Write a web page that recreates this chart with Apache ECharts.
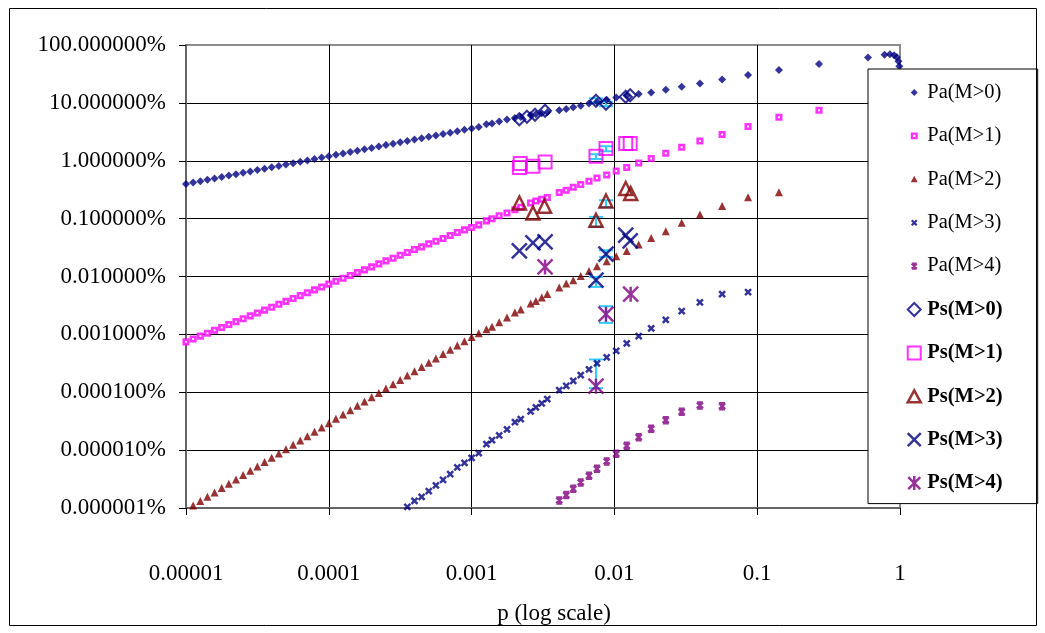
<!DOCTYPE html>
<html>
<head>
<meta charset="utf-8">
<script src="https://cdn.jsdelivr.net/npm/echarts@6/dist/echarts.min.js"></script>
<style>html,body{margin:0;padding:0;background:#fff}#c{width:1045px;height:633px}</style>
</head>
<body>
<div id="c"></div>
<script>
// ---- data ----
const pValues = [
  1.000e-5, 1.122e-5, 1.259e-5, 1.413e-5, 1.585e-5, 1.778e-5, 1.995e-5, 2.239e-5, 2.512e-5, 2.818e-5,
  3.162e-5, 3.548e-5, 3.981e-5, 4.467e-5, 5.012e-5, 5.623e-5, 6.310e-5, 7.079e-5, 7.943e-5, 8.913e-5,
  1.000e-4, 1.122e-4, 1.259e-4, 1.413e-4, 1.585e-4, 1.778e-4, 1.995e-4, 2.239e-4, 2.512e-4, 2.818e-4,
  3.162e-4, 3.548e-4, 3.981e-4, 4.467e-4, 5.012e-4, 5.623e-4, 6.310e-4, 7.079e-4, 7.943e-4, 8.913e-4,
  1.000e-3, 1.122e-3,
  0.00127, 0.00139, 0.00156, 0.00177, 0.00201, 0.00221, 0.00259, 0.00282, 0.00310, 0.00339,
  0.00411, 0.00460, 0.00515, 0.00581, 0.00664, 0.00755, 0.00883, 0.0103, 0.0122, 0.0148,
  0.0181, 0.0229, 0.0296, 0.0397, 0.0568, 0.0863, 0.142, 0.271, 0.597,
  0.78, 0.85, 0.91, 0.95, 0.975, 0.99
];

// Pa series: values aligned with pValues starting at the given index
const paM0Start = 0;
const paM0 = [
  0.003975, 0.004200, 0.004438, 0.004690, 0.004955, 0.005237, 0.005534, 0.005848, 0.006180, 0.006530,
  0.006900, 0.007291, 0.007704, 0.008141, 0.008603, 0.009091, 0.009609, 0.01015, 0.01073, 0.01134,
  0.01198, 0.01266, 0.01338, 0.01414, 0.01494, 0.01579, 0.01668, 0.01763, 0.01863, 0.01968,
  0.02080, 0.02198, 0.02323, 0.02455, 0.02594, 0.02741, 0.02896, 0.03060, 0.03234, 0.03417,
  0.03611, 0.03816,
  0.04270, 0.04390, 0.04753, 0.05146, 0.05462, 0.05683, 0.06106, 0.06354, 0.06612, 0.06881,
  0.07454, 0.07848, 0.08395, 0.08914, 0.09725, 0.1045, 0.1131, 0.1234, 0.1326, 0.1419,
  0.1506, 0.1684, 0.1897, 0.2154, 0.2526, 0.3033, 0.3701, 0.4697, 0.6059,
  0.6774, 0.6911, 0.6641, 0.6132, 0.5231, 0.4286
];
const paM1Start = 0;
const paM1 = [
  7.42e-6, 8.32e-6, 9.34e-6, 1.047e-5, 1.175e-5, 1.318e-5, 1.479e-5, 1.659e-5, 1.861e-5, 2.088e-5,
  2.342e-5, 2.628e-5, 2.948e-5, 3.307e-5, 3.710e-5, 4.162e-5, 4.669e-5, 5.238e-5, 5.876e-5, 6.593e-5,
  7.396e-5, 8.295e-5, 9.346e-5, 1.041e-4, 1.172e-4, 1.300e-4, 1.465e-4, 1.651e-4, 1.860e-4, 2.071e-4,
  2.333e-4, 2.597e-4, 2.926e-4, 3.245e-4, 3.656e-4, 4.071e-4, 4.532e-4, 5.106e-4, 5.753e-4, 6.379e-4,
  7.019e-4, 7.783e-4,
  9.127e-4, 9.961e-4, 1.122e-3, 1.254e-3, 1.425e-3, 1.573e-3, 1.867e-3, 2.021e-3, 2.163e-3, 2.314e-3,
  2.823e-3, 3.094e-3, 3.486e-3, 3.880e-3, 4.424e-3, 5.045e-3, 5.685e-3, 6.665e-3, 7.629e-3, 9.163e-3,
  1.091e-2, 1.348e-2, 1.710e-2, 2.198e-2, 2.834e-2, 3.897e-2, 5.639e-2, 7.454e-2
];
const paM2Start = 1;
const paM2 = [
  1.109e-8, 1.317e-8, 1.565e-8, 1.859e-8, 2.208e-8, 2.623e-8, 3.115e-8, 3.701e-8, 4.396e-8,
  5.222e-8, 6.204e-8, 7.370e-8, 8.755e-8, 1.040e-7, 1.236e-7, 1.468e-7, 1.743e-7, 2.071e-7, 2.460e-7,
  2.922e-7, 3.471e-7, 4.124e-7, 4.899e-7, 5.818e-7, 6.912e-7, 8.211e-7, 9.754e-7, 1.159e-6, 1.376e-6,
  1.635e-6, 1.940e-6, 2.302e-6, 2.732e-6, 3.241e-6, 3.846e-6, 4.564e-6, 5.415e-6, 6.426e-6, 7.625e-6,
  9.047e-6, 1.05e-5,
  1.230e-5, 1.358e-5, 1.624e-5, 1.958e-5, 2.389e-5, 2.692e-5, 3.417e-5, 3.790e-5, 4.339e-5, 5.006e-5,
  6.457e-5, 7.570e-5, 8.631e-5, 1.024e-4, 1.249e-4, 1.506e-4, 1.837e-4, 2.241e-4, 2.768e-4, 3.570e-4,
  4.642e-4, 6.059e-4, 8.497e-4, 1.177e-3, 1.657e-3, 2.342e-3, 2.858e-3
];
const paM3Start = 31;
const paM3 = [
  1.049e-8, 1.331e-8, 1.561e-8, 1.958e-8, 2.457e-8, 3.069e-8, 3.850e-8, 5.025e-8, 6.035e-8, 7.362e-8,
  8.874e-8,
  1.270e-7, 1.488e-7, 1.794e-7, 2.278e-7, 3.045e-7, 3.430e-7, 4.660e-7, 5.463e-7, 6.405e-7, 7.600e-7,
  1.087e-6, 1.290e-6, 1.573e-6, 1.974e-6, 2.476e-6, 3.144e-6, 3.990e-6, 5.188e-6, 6.964e-6, 9.309e-6,
  1.264e-5, 1.780e-5, 2.516e-5, 3.556e-5, 4.947e-5, 5.356e-5
];
const paM4Start = 52;
const paM4 = [
  1.353e-8, 1.670e-8, 2.146e-8, 2.767e-8, 3.598e-8, 4.753e-8, 6.377e-8, 8.630e-8, 1.187e-7, 1.677e-7,
  2.333e-7, 3.297e-7, 4.586e-7, 5.916e-7, 5.754e-7
];

// Ps series (simulation points)
const psM0P = [0.00216, 0.00244, 0.00278, 0.00327, 0.00743, 0.00873, 0.0120, 0.0129];
const psM0 = [0.05208, 0.05752, 0.06229, 0.07305, 0.1087, 0.09649, 0.1274, 0.1353];
const psM1P = [0.00216, 0.00219, 0.00269, 0.00327, 0.00743, 0.00873, 0.0120, 0.0129];
const psM1 = [0.007629, 0.008947, 0.008035, 0.009535, 0.01196, 0.01625, 0.01982, 0.01982];
const psM2P = [0.00216, 0.00269, 0.00324, 0.00743, 0.00873, 0.0120, 0.0130];
const psM2 = [0.001867, 0.001254, 0.001638, 0.000938, 0.002021, 0.003311, 0.002713];
const psM3P = [0.00216, 0.00269, 0.00327, 0.00743, 0.00873, 0.0120, 0.0129];
const psM3 = [0.0002768, 0.0003804, 0.0003959, 8.63e-5, 0.0002427, 0.0005168, 0.0004119];
const psM4P = [0.00327, 0.00743, 0.00873, 0.0130];
const psM4 = [0.0001465, 1.274e-6, 2.233e-5, 4.947e-5];

// error bars (cyan)
const errP    = [0.00743, 0.00873, 0.00743, 0.00873, 0.00743, 0.00873, 0.00743, 0.00873, 0.00743, 0.00873];
const errLow  = [0.1004, 0.0874, 0.01074, 0.01459, 7.19e-4, 1.573e-3, 6.61e-5, 2.18e-4, 1.177e-6, 1.580e-5];
const errHigh = [0.1201, 0.1045, 0.01295, 0.01780, 1.070e-3, 2.078e-3, 9.84e-5, 2.845e-4, 3.685e-6, 3.069e-5];

const xTickLabels = ['0.00001', '0.0001', '0.001', '0.01', '0.1', '1'];
const yTickLabels = ['0.000001%', '0.000010%', '0.000100%', '0.001000%', '0.010000%',
                     '0.100000%', '1.000000%', '10.000000%', '100.000000%'];
const seriesNames = ['Pa(M>0)', 'Pa(M>1)', 'Pa(M>2)', 'Pa(M>3)', 'Pa(M>4)',
                     'Ps(M>0)', 'Ps(M>1)', 'Ps(M>2)', 'Ps(M>3)', 'Ps(M>4)'];
const xAxisTitle = 'p (log scale)';

// ---- build ----
const FONT = "'Liberation Serif', 'Times New Roman', serif";
const NAVY = '#000080', MAG = '#FF00FF', MAROON = '#800000', PURPLE = '#800080', CYAN = '#33CCFF';
const CLEAR = 'rgba(0,0,0,0)';

function aligned(start, vals) {
  return vals.map((v, j) => [pValues[start + j], v]);
}
function paired(ps, vals) {
  return vals.map((v, j) => [ps[j], v]);
}

const X_PATH = 'path://M0,0L10,10M10,0L0,10';
const STAR_PATH = 'path://M0,0L10,10M10,0L0,10M5,0L5,10';
const HOUR_PATH = 'path://M0,0L10,0M0,10L10,10M0,0L10,10M10,0L0,10';

function scatter(name, data, symbol, size, style, z) {
  return {
    type: 'scatter', name: name, data: data, symbol: symbol, symbolSize: size,
    itemStyle: style, clip: false, z: z || 2, silent: true, emphasis: {disabled: true}
  };
}

const errData = errP.map((p, i) => [p, errLow[i], errHigh[i]]);

const series = [
  scatter(seriesNames[0], aligned(paM0Start, paM0), 'diamond', 8, {color: NAVY}),
  scatter(seriesNames[1], aligned(paM1Start, paM1), 'rect', 4.5, {color: '#fff', borderColor: MAG, borderWidth: 2.6}),
  scatter(seriesNames[2], aligned(paM2Start, paM2), 'triangle', 8, {color: MAROON}),
  scatter(seriesNames[3], aligned(paM3Start, paM3), X_PATH, 6, {color: CLEAR, borderColor: NAVY, borderWidth: 2.5}),
  scatter(seriesNames[4], aligned(paM4Start, paM4), HOUR_PATH, 6, {color: CLEAR, borderColor: PURPLE, borderWidth: 2.5}),
  {
    type: 'custom', name: 'errorbars', data: errData, clip: false, silent: true, z: 2,
    encode: {x: 0, y: [1, 2]},
    renderItem: function (params, api) {
      const a = api.coord([api.value(0), api.value(1)]);
      const b = api.coord([api.value(0), api.value(2)]);
      const cw = 7;
      const st = {stroke: CYAN, lineWidth: 2};
      return {type: 'group', children: [
        {type: 'line', shape: {x1: a[0], y1: a[1], x2: b[0], y2: b[1]}, style: st},
        {type: 'line', shape: {x1: a[0] - cw, y1: a[1], x2: a[0] + cw, y2: a[1]}, style: st},
        {type: 'line', shape: {x1: b[0] - cw, y1: b[1], x2: b[0] + cw, y2: b[1]}, style: st}
      ]};
    }
  },
  scatter(seriesNames[5], paired(psM0P, psM0), 'diamond', 12, {color: CLEAR, borderColor: NAVY, borderWidth: 2}, 3),
  scatter(seriesNames[6], paired(psM1P, psM1), 'rect', 13, {color: CLEAR, borderColor: MAG, borderWidth: 2}, 3),
  scatter(seriesNames[7], paired(psM2P, psM2), 'triangle', 13, {color: CLEAR, borderColor: MAROON, borderWidth: 2.5}, 3),
  scatter(seriesNames[8], paired(psM3P, psM3), X_PATH, 15, {color: CLEAR, borderColor: NAVY, borderWidth: 2.5}, 3),
  scatter(seriesNames[9], paired(psM4P, psM4), STAR_PATH, 15, {color: CLEAR, borderColor: PURPLE, borderWidth: 2.5}, 3)
];

const legendIcons = [
  {icon: 'path://M0,0M16,16M8,4.5L11.5,8L8,11.5L4.5,8Z', itemStyle: {color: NAVY, borderWidth: 0}},
  {icon: 'path://M0,0M16,16M5.75,5.75L10.25,5.75L10.25,10.25L5.75,10.25Z', itemStyle: {color: '#fff', borderColor: MAG, borderWidth: 2.4}},
  {icon: 'path://M0,0M16,16M8,4.5L11.5,11L4.5,11Z', itemStyle: {color: MAROON, borderWidth: 0}},
  {icon: 'path://M0,0M16,16M5.5,5.5L10.5,10.5M10.5,5.5L5.5,10.5', itemStyle: {color: CLEAR, borderColor: NAVY, borderWidth: 2.2}},
  {icon: 'path://M0,0M16,16M5.5,5.5L10.5,5.5M5.5,10.5L10.5,10.5M5.5,5.5L10.5,10.5M10.5,5.5L5.5,10.5', itemStyle: {color: CLEAR, borderColor: PURPLE, borderWidth: 2.2}},
  {icon: 'path://M0,0M16,16M8,1.5L14.5,8L8,14.5L1.5,8Z', itemStyle: {color: CLEAR, borderColor: NAVY, borderWidth: 2}},
  {icon: 'path://M0,0M16,16M1.5,1.5L14.5,1.5L14.5,14.5L1.5,14.5Z', itemStyle: {color: CLEAR, borderColor: MAG, borderWidth: 2}},
  {icon: 'path://M0,0M16,16M8,2L14.5,14L1.5,14Z', itemStyle: {color: CLEAR, borderColor: MAROON, borderWidth: 2.5}},
  {icon: 'path://M0,0M16,16M1.5,1.5L14.5,14.5M14.5,1.5L1.5,14.5', itemStyle: {color: CLEAR, borderColor: NAVY, borderWidth: 2.5}},
  {icon: 'path://M0,0M16,16M2,2L14,14M14,2L2,14M8,1L8,15', itemStyle: {color: CLEAR, borderColor: PURPLE, borderWidth: 2.5}}
];

const legendData = seriesNames.map((n, i) => Object.assign({name: n}, legendIcons[i],
  i >= 5 ? {textStyle: {fontWeight: 'bold'}} : {}));

const chart = echarts.init(document.getElementById('c'), null, {renderer: 'canvas'});
chart.setOption({
  animation: false,
  backgroundColor: '#fff',
  textStyle: {fontFamily: FONT},
  grid: {
    left: 186, right: 145, top: 45, bottom: 125,
    containLabel: false, outerBoundsMode: 'none',
    show: true, backgroundColor: '#fff', borderColor: '#8c8c8c', borderWidth: 2
  },
  xAxis: {
    type: 'log', logBase: 10, min: 1e-5, max: 1, splitNumber: 5,
    axisLine: {show: true, lineStyle: {color: '#666', width: 2}},
    axisTick: {show: true, length: 7, lineStyle: {color: '#000', width: 1}},
    splitLine: {show: true, showMinLine: false, showMaxLine: false, lineStyle: {color: '#000', width: 1}},
    minorTick: {show: false}, minorSplitLine: {show: false},
    axisLabel: {
      margin: 54, fontFamily: FONT, fontSize: 23, lineHeight: 23, color: '#000',
      formatter: v => xTickLabels[Math.round(Math.log10(v)) + 5]
    },
    name: xAxisTitle, nameLocation: 'middle', nameGap: 94,
    nameTextStyle: {fontFamily: FONT, fontSize: 23, lineHeight: 23, color: '#000', padding: [0, 0, 0, 22]}
  },
  yAxis: {
    type: 'log', logBase: 10, min: 1e-8, max: 1, splitNumber: 8,
    axisLine: {show: true, lineStyle: {color: '#666', width: 2}},
    axisTick: {show: true, length: 7, lineStyle: {color: '#000', width: 1}},
    splitLine: {show: true, showMinLine: false, showMaxLine: false, lineStyle: {color: '#000', width: 1}},
    minorTick: {show: false}, minorSplitLine: {show: false},
    axisLabel: {
      margin: 20, fontFamily: FONT, fontSize: 23, lineHeight: 23, color: '#000',
      formatter: v => yTickLabels[Math.round(Math.log10(v)) + 8]
    }
  },
  legend: {
    show: true, orient: 'vertical', left: 868, top: 69,
    padding: [13, 35, 10, 37], itemGap: 22.4, itemWidth: 16, itemHeight: 16,
    backgroundColor: '#fff', borderColor: '#000', borderWidth: 1, borderRadius: 0,
    selectedMode: false, symbolKeepAspect: true,
    textStyle: {fontFamily: FONT, fontSize: 20.5, lineHeight: 20, color: '#000'},
    data: legendData, z: 10
  },
  graphic: [{
    type: 'rect', silent: true, z: 100,
    shape: {x: 9.5, y: 8.5, width: 1027, height: 617},
    style: {fill: 'none', stroke: '#000', lineWidth: 1}
  }],
  series: series
});
</script>
</body>
</html>
